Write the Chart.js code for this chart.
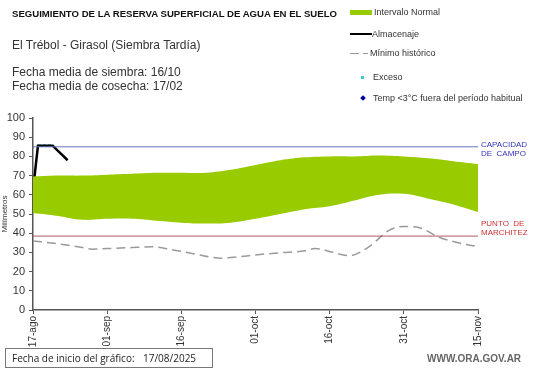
<!DOCTYPE html>
<html>
<head>
<meta charset="utf-8">
<script src="https://cdn.jsdelivr.net/npm/chart.js@4.4.1/dist/chart.umd.min.js"></script>
<style>
  html, body { margin: 0; padding: 0; background: #fff; }
  #wrap { position: relative; width: 541px; height: 368px; overflow: hidden; font-family: "Liberation Sans", Arial, sans-serif; color: #222; }
  #chart { position: absolute; left: 0; top: 0; }
  .t { position: absolute; white-space: nowrap; }
  .leg { position: absolute; white-space: nowrap; font-size: 9px; color: #333; }
</style>
</head>
<body>
<div id="wrap">
  <canvas id="chart" width="541" height="368"></canvas>

  <div class="t" style="left:12px;top:8px;font-size:9.6px;font-weight:bold;color:#111;">SEGUIMIENTO DE LA RESERVA SUPERFICIAL DE AGUA EN EL SUELO</div>
  <div class="t" style="left:12px;top:38px;font-size:12px;color:#333;">El Trébol - Girasol (Siembra Tardía)</div>
  <div class="t" style="left:12px;top:65px;font-size:12px;color:#333;line-height:14px;">Fecha media de siembra: 16/10<br>Fecha media de cosecha: 17/02</div>

  <!-- leyenda -->
  <div style="position:absolute;left:350px;top:10px;width:22px;height:5px;background:#99cc00;"></div>
  <div class="leg" style="left:374px;top:7px;">Intervalo Normal</div>
  <div style="position:absolute;left:350px;top:33px;width:22px;height:2px;background:#000;"></div>
  <div class="leg" style="left:372px;top:29px;">Almacenaje</div>
  <div style="position:absolute;left:350px;top:53px;width:9px;height:1px;background:#999;"></div>
  <div style="position:absolute;left:363px;top:53px;width:5px;height:1px;background:#999;"></div>
  <div class="leg" style="left:370px;top:48px;">Mínimo histórico</div>
  <div style="position:absolute;left:361px;top:76px;width:3px;height:3px;background:#33cccc;"></div>
  <div class="leg" style="left:373px;top:72px;">Exceso</div>
  <div style="position:absolute;left:361px;top:96px;width:4px;height:4px;background:#000099;transform:rotate(45deg);"></div>
  <div class="leg" style="left:373px;top:93px;">Temp &lt;3°C fuera del período habitual</div>

  <!-- etiquetas de las líneas de referencia -->
  <div class="t" style="left:481px;top:140px;font-size:8px;line-height:9px;color:#3333bb;">CAPACIDAD<br>DE&nbsp; CAMPO</div>
  <div class="t" style="left:481px;top:219px;font-size:8px;line-height:9px;color:#cc3333;">PUNTO&nbsp; DE<br>MARCHITEZ</div>

  <div class="t" style="left:5px;top:348px;width:208px;height:20px;border:1px solid #777;box-sizing:border-box;background:#fff;"></div>
  <div class="t" style="left:12px;top:351px;font-size:10px;color:#222;font-family:'Open Sans',sans-serif;">Fecha de inicio del gráfico:</div>
  <div class="t" style="left:143px;top:351px;font-size:10px;color:#222;font-family:'Open Sans',sans-serif;">17/08/2025</div>
  <div class="t" style="left:427px;top:353px;font-size:10px;font-weight:bold;color:#666;">WWW.ORA.GOV.AR</div>
</div>

<script>
// Etiquetas del eje x (cada 15 días desde el 17-ago)
const tickLabels = ['17-ago', '01-sep', '16-sep', '01-oct', '16-oct', '31-oct', '15-nov'];

// Intervalo normal (días desde el inicio)
const normalDays = [0, 5, 10, 15, 20, 25, 30, 35, 40, 45, 50, 55, 60, 65, 70, 75, 80, 85, 90];
const normalLow  = [50.5, 49, 47, 47.5, 47.5, 46.5, 45.5, 45, 45.5, 47.5, 50, 52.5, 54, 57, 60, 60.5, 58, 55, 51];
const normalHigh = [69.5, 70, 70, 70.5, 71, 71.5, 71.5, 71.5, 73, 75.5, 78, 79.5, 80, 80, 80.5, 80, 79, 77.5, 76];

// Mínimo histórico
const minDays   = [0, 5, 10, 12, 15, 20, 24, 28, 33, 38, 41, 45, 50, 55, 57, 60, 64, 68, 72, 75, 78, 82, 86, 90];
const minValues = [36, 34.5, 32.5, 31.7, 32, 32.5, 32.9, 31.5, 29, 27, 27.5, 28.7, 29.8, 30.8, 32, 30.5, 28.3, 33, 41.5, 43.5, 43, 38, 35, 33];

// Almacenaje y exceso
const storeDays   = [0, 1, 2, 3, 4, 5, 6, 7];
const storeValues = [62.5, 85.5, 85.5, 85.5, 85.5, 83, 80.5, 78];
const excessDays   = [1, 2, 3, 4];
const excessValues = [85.7, 85.7, 85.7, 85.7];

// Líneas de referencia
const capacidadCampo = 85;
const puntoMarchitez = 38.5;
const lastDay = 90;

const pts = (xs, ys) => xs.map((x, i) => ({ x: x, y: ys[i] }));

const ctx = document.getElementById('chart').getContext('2d');
new Chart(ctx, {
  type: 'line',
  data: {
    datasets: [
      {
        label: 'bajo',
        data: pts(normalDays, normalLow),
        borderWidth: 0,
        pointRadius: 0,
        tension: 0.4,
        fill: false
      },
      {
        label: 'Intervalo Normal',
        data: pts(normalDays, normalHigh),
        borderWidth: 0,
        pointRadius: 0,
        tension: 0.4,
        backgroundColor: '#99cc00',
        fill: '-1'
      },
      {
        label: 'Capacidad',
        data: pts([0, lastDay], [capacidadCampo, capacidadCampo]),
        borderColor: '#6677bb',
        borderWidth: 1,
        pointRadius: 0
      },
      {
        label: 'Marchitez',
        data: pts([0, lastDay], [puntoMarchitez, puntoMarchitez]),
        borderColor: '#b05a5a',
        borderWidth: 1,
        pointRadius: 0
      },
      {
        label: 'Mínimo histórico',
        data: pts(minDays, minValues),
        borderColor: '#9a9a9a',
        borderWidth: 1.5,
        borderDash: [9, 5],
        pointRadius: 0,
        cubicInterpolationMode: 'monotone'
      },
      {
        label: 'Almacenaje',
        data: pts(storeDays, storeValues),
        borderColor: '#000',
        borderWidth: 2.5,
        pointRadius: 0
      },
      {
        label: 'Exceso',
        data: pts(excessDays, excessValues),
        borderColor: '#33cccc',
        borderWidth: 2.5,
        borderDash: [3, 2],
        pointRadius: 0
      }
    ]
  },
  options: {
    responsive: false,
    animation: false,
    plugins: { legend: { display: false }, tooltip: { enabled: false } },
    layout: { padding: { top: 118, right: 63, left: 0, bottom: 0 } },
    scales: {
      x: {
        type: 'linear',
        min: 0,
        max: lastDay,
        afterFit: s => { s.height = 58; },
        ticks: {
          stepSize: 15,
          minRotation: 90,
          maxRotation: 90,
          padding: 2,
          color: '#333',
          font: { family: 'Liberation Sans', size: 10 },
          callback: v => tickLabels[v / 15]
        },
        grid: { drawOnChartArea: false, drawTicks: true, tickLength: 4, color: '#555' },
        border: { display: true, color: '#555', width: 1.5 }
      },
      y: {
        min: 0,
        max: 100,
        afterFit: s => { s.width = 33; },
        ticks: {
          stepSize: 10,
          padding: 4,
          color: '#333',
          font: { family: 'Liberation Sans', size: 11 }
        },
        title: {
          display: true,
          text: 'Milímetros',
          color: '#333',
          padding: 0,
          font: { family: 'Liberation Sans', size: 8 }
        },
        grid: { drawOnChartArea: false, drawTicks: true, tickLength: 4, color: '#555' },
        border: { display: true, color: '#555', width: 1.5 }
      }
    }
  }
});
</script>
</body>
</html>
